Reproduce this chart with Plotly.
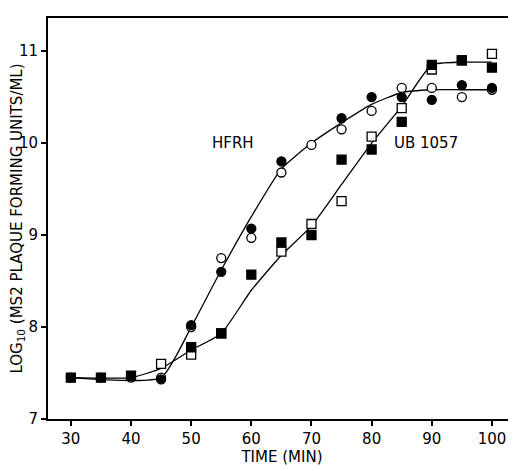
import plotly.graph_objects as go

hc_x=[30,35,40,45,50,55,60,65,70,75,80,85,90,95,100]
hc_y=[7.45,7.45,7.45,7.45,8.0,8.75,8.97,9.68,9.98,10.15,10.35,10.6,10.6,10.5,10.58]
hf_x=[45,50,55,60,65,75,80,85,90,95,100]
hf_y=[7.43,8.02,8.6,9.07,9.8,10.27,10.5,10.5,10.47,10.63,10.6]
uo_x=[45,50,55,65,70,75,80,85,90,95,100]
uo_y=[7.6,7.7,7.93,8.82,9.12,9.37,10.07,10.38,10.8,10.9,10.97]
uf_x=[30,35,40,50,55,60,65,70,75,80,85,90,95,100]
uf_y=[7.45,7.45,7.47,7.78,7.93,8.57,8.92,9.0,9.82,9.93,10.23,10.85,10.9,10.82]
hcurve_x=[30,45,50,55,60,65,70,75,80,85,90,95,100]
hcurve_y=[7.45,7.45,8.0,8.62,9.2,9.72,10.0,10.22,10.42,10.55,10.58,10.58,10.58]
ucurve_x=[30,40,45,50,55,60,65,70,75,80,85,90,95,100]
ucurve_y=[7.45,7.45,7.55,7.75,7.93,8.4,8.78,9.1,9.55,10.0,10.4,10.85,10.88,10.88]

fig=go.Figure()
ln=dict(color="black",width=1.3,shape="spline",smoothing=0.5)
fig.add_trace(go.Scatter(x=hcurve_x,y=hcurve_y,mode="lines",line=ln))
fig.add_trace(go.Scatter(x=ucurve_x,y=ucurve_y,mode="lines",line=ln))
mk=lambda s,f: dict(symbol=s,size=9,color="white" if not f else "black",line=dict(color="black",width=1.3))
fig.add_trace(go.Scatter(x=hc_x,y=hc_y,mode="markers",marker=mk("circle",False)))
fig.add_trace(go.Scatter(x=hf_x,y=hf_y,mode="markers",marker=mk("circle",True)))
fig.add_trace(go.Scatter(x=uo_x,y=uo_y,mode="markers",marker=mk("square",False)))
fig.add_trace(go.Scatter(x=uf_x,y=uf_y,mode="markers",marker=mk("square",True)))
fig.add_annotation(x=57,y=10.0,text="HFRH",showarrow=False,font=dict(size=15))
fig.add_annotation(x=89,y=10.0,text="UB 1057",showarrow=False,font=dict(size=15))
ax=dict(showgrid=False,zeroline=False,showline=True,linecolor="black",linewidth=2,mirror=True,automargin=False,
        ticks="outside",tickcolor="black",tickwidth=2,ticklen=5,tickfont=dict(size=15,color="black"))
fig.update_xaxes(**ax,range=[26.2,104],tickvals=[30,40,50,60,70,80,90,100],
                 title=dict(text="TIME (MIN)",font=dict(size=15),standoff=4))
fig.update_yaxes(**ax,range=[7,11.36],tickvals=[7,8,9,10,11],
                 title=dict(text="LOG<sub>10</sub> (MS2 PLAQUE FORMING UNITS/ML)",font=dict(size=15),standoff=0))
fig.update_layout(width=516,height=471,showlegend=False,plot_bgcolor="white",paper_bgcolor="white",
                  font=dict(family="DejaVu Sans",color="black"),margin=dict(l=40,r=8,t=10,b=60))
fig.write_html("out.html")
